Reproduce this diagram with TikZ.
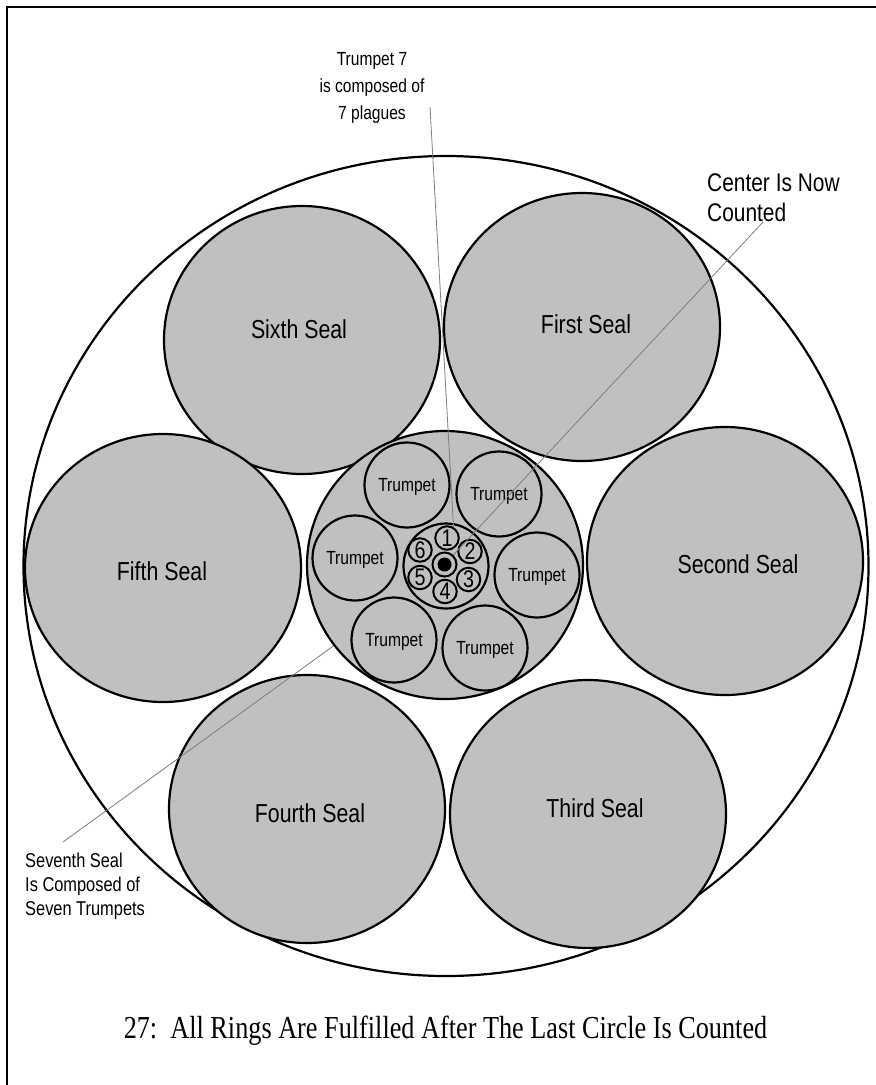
\documentclass[tikz,border=0pt]{standalone}
\usepackage{fontspec}
\setmainfont{Liberation Sans}
\newfontfamily\lab[FakeStretch=0.82]{Liberation Sans}
\newfontfamily\capfont[FakeStretch=0.82]{Liberation Serif}
\usetikzlibrary{shapes.geometric}
\definecolor{sealgray}{RGB}{192,192,192}
\definecolor{leadgray}{RGB}{125,125,125}
\newcommand\setfs[1]{\fontsize{#1pt}{#1pt}\selectfont}
\begin{document}
\begin{tikzpicture}[x=1pt,y=-1pt,
  sealshape/.style={ellipse, draw=black, line width=2.2pt, fill=sealgray,
    minimum width=276pt, minimum height=268pt, inner sep=0pt},
  sealtext/.style={font=\lab\setfs{26}, inner sep=0pt},
  trumpetshape/.style={circle, draw=black, line width=2.2pt, fill=sealgray,
    minimum size=85pt, inner sep=0pt, font=\lab\setfs{19}, text depth=0pt},
  plague/.style={circle, draw=black, line width=2pt, fill=sealgray,
    minimum size=23.5pt, inner sep=0pt, font=\lab\setfs{24}},
  leader/.style={draw=leadgray, line width=0.8pt}]
\useasboundingbox (0,0) rectangle (876,1085);
% frame (left and top edges)
\draw[line width=2.6pt] (7,1090) -- (7,7) -- (880,7);
% outer ring
\node[ellipse, draw=black, line width=2.2pt, minimum width=845pt,
  minimum height=820pt, inner sep=0pt] (outer) at (446,566) {};
% seals
\node[sealshape] (s6) at (302,340) {};
\node[sealshape] (s1) at (582,327) {};
\node[sealshape] (s5) at (163,568) {};
\node[sealshape] (s2) at (725,561) {};
\node[sealshape] (s4) at (307,809) {};
\node[sealshape] (s3) at (588,814) {};
\node[sealshape] (s7) at (445,565) {};
\node[sealtext] (l6) at (299,329) {Sixth Seal};
\node[sealtext] (l1) at (586,324) {First Seal};
\node[sealtext] (l5) at (162,571) {Fifth Seal};
\node[sealtext] (l2) at (738,564) {Second Seal};
\node[sealtext] (l4) at (310,813) {Fourth Seal};
\node[sealtext] (l3) at (595,808) {Third Seal};
% trumpets
\node[trumpetshape] (tr1) at (407,485) {Trumpet};
\node[trumpetshape] (tr2) at (499,494) {Trumpet};
\node[trumpetshape] (tr3) at (355,558) {Trumpet};
\node[trumpetshape] (tr4) at (537,575) {Trumpet};
\node[trumpetshape] (tr5) at (394,640) {Trumpet};
\node[trumpetshape] (tr6) at (485,648) {Trumpet};
% seventh trumpet: plagues
\node[circle, draw=black, line width=2.2pt, fill=sealgray, minimum size=85pt,
  inner sep=0pt] (t7) at (446,566) {};
\node[plague] (p1) at (447,538) {1};
\node[plague] (p2) at (470,551.5) {2};
\node[plague] (p3) at (468.5,579.5) {3};
\node[plague] (p4) at (445,591.5) {4};
\node[plague] (p5) at (420,577.5) {5};
\node[plague] (p6) at (420,550) {6};
\node[circle, draw=black, line width=2pt, fill=sealgray, minimum size=24pt,
  inner sep=0pt] (cr) at (444.5,564.5) {};
\node[circle, fill=black, minimum size=14pt, inner sep=0pt] (dot) at (444.5,564.5) {};
% leader lines
\coordinate (t7a) at (430,107);
\coordinate (t7b) at (453.5,527);
\coordinate (cna) at (763,222);
\coordinate (s7a) at (63,842);
\draw[leader] (t7a) -- (t7b);
\draw[leader] (cna) -- (cr);
\draw[leader] (s7a) -- (s7);
% notes
\node[font=\lab\fontsize{19pt}{27pt}\selectfont, align=center, inner sep=0pt]
  (t7lab) at (372,88) {Trumpet 7\\is composed of\\7 plagues};
\node[font=\lab\fontsize{25.5pt}{30pt}\selectfont, align=left, anchor=west,
  inner sep=0pt] (cnlab) at (707,198) {Center Is Now\\Counted};
\node[font=\lab\fontsize{20pt}{24pt}\selectfont, align=left, anchor=west,
  inner sep=0pt] (s7lab) at (25,886) {Seventh Seal\\Is Composed of\\Seven Trumpets};
\node[font=\capfont\setfs{32}, inner sep=0pt] (caption) at (445.5,1031)
  {27:\ \ All Rings Are Fulfilled After The Last Circle Is Counted};
\end{tikzpicture}
\end{document}
